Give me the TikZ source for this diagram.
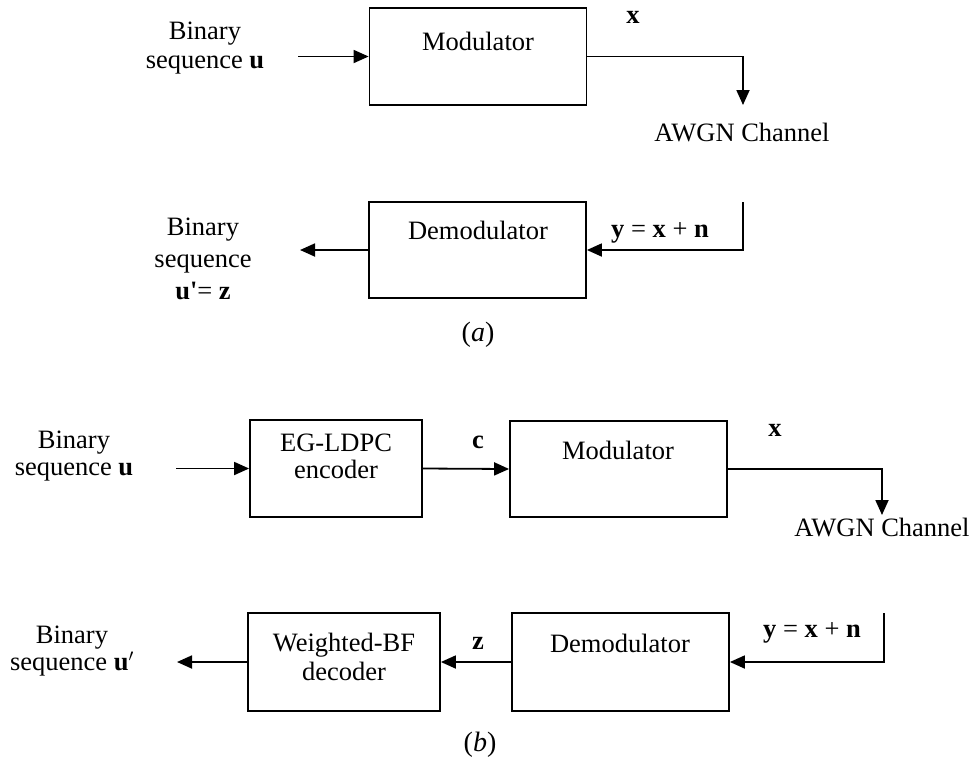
\documentclass[tikz,border=0pt]{standalone}
\usepackage{fontspec}
\setmainfont{Liberation Serif}
\usetikzlibrary{arrows.meta}
\newcommand{\fsz}[1]{\fontsize{26.5}{#1}\selectfont}
\begin{document}
\begin{tikzpicture}[x=1pt,y=-1pt,font=\fsz{30},
  box/.style={draw,line width=1.8pt,minimum width=217pt,minimum height=97pt,inner sep=0pt},
  arr/.style={line width=1.8pt,-{Triangle[length=15pt,width=13pt]}},
  lbl/.style={inner sep=0pt,align=center}]
\useasboundingbox (0,0) rectangle (978,764);
% ---------- (a) ----------
\node[box] (moda) at (478,56.5) {};
\node[box,minimum height=96pt] (dema) at (477.5,250) {};
\node[lbl] (modat) at (478,41) {Modulator};
\node[lbl] (demat) at (478,230) {Demodulator};
\node[lbl,font=\fsz{29}] (bina) at (205,48) {Binary\\sequence \textbf{u}};
\node[lbl] (xa) at (633,17) {\textbf{x}};
\node[lbl] (awgna) at (742,133) {AWGN Channel};
\node[lbl] (ya) at (660,233) {\textbf{y} = \textbf{x} + \textbf{n}};
\node[lbl,font=\fsz{32}] (bouta) at (203,259) {Binary\\sequence\\\textbf{u\textquotesingle}= \textbf{z}};
\node[lbl,font=\fontsize{28}{32}\selectfont] (capa) at (478,335) {(\textit{a})};
\coordinate (ina) at (298,56.5);
\coordinate (cha) at (743,105);
\coordinate (fba) at (743,202);
\coordinate (outa) at (300,250);
\draw[arr] (ina) -- (moda.west);
\draw[arr] (moda.east) -| (cha);
\draw[arr] (fba) |- (dema.east);
\draw[arr] (dema.west) -- (outa);
% ---------- (b) ----------
\node[box,minimum width=172pt] (egb) at (336,468.5) {};
\node[box,minimum height=96pt] (modb) at (618.5,469) {};
\node[box,minimum width=192pt,minimum height=98pt] (wbfb) at (344,662) {};
\node[box,minimum height=98pt] (demb) at (620.5,662) {};
\node[lbl,font=\fsz{27}] (egbt) at (336,456) {EG-LDPC\\encoder};
\node[lbl] (modbt) at (618,450) {Modulator};
\node[lbl,font=\fsz{29}] (wbfbt) at (344,657) {Weighted-BF\\decoder};
\node[lbl] (dembt) at (620,643) {Demodulator};
\node[lbl,font=\fsz{27}] (binb) at (74,456) {Binary\\sequence \textbf{u}};
\node[lbl] (cb) at (478,442) {\textbf{c}};
\node[lbl] (xb) at (775,430) {\textbf{x}};
\node[lbl] (awgnb) at (882,527) {AWGN Channel};
\node[lbl] (zb) at (478,643) {\textbf{z}};
\node[lbl] (yb) at (812,633) {\textbf{y} = \textbf{x} + \textbf{n}};
\node[lbl,font=\fsz{27}] (boutb) at (72,651) {Binary\\sequence \textbf{u}$'$};
\node[lbl,font=\fontsize{28}{32}\selectfont] (capb) at (480,745) {(\textit{b})};
\coordinate (inb) at (176,468.5);
\coordinate (chb) at (882,515);
\coordinate (fbb) at (884,613);
\coordinate (outb) at (177,662);
\draw[arr] (inb) -- (egb.west);
\draw[arr] (egb.east) -- (modb.west);
\draw[arr] (modb.east) -| (chb);
\draw[arr] (fbb) |- (demb.east);
\draw[arr] (demb.west) -- (wbfb.east);
\draw[arr] (wbfb.west) -- (outb);
\end{tikzpicture}
\end{document}
